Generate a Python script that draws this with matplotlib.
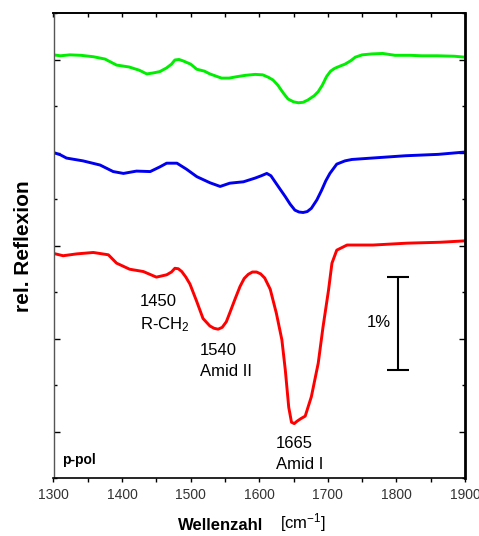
import matplotlib
matplotlib.use("Agg")
import matplotlib.pyplot as plt
from matplotlib.ticker import MultipleLocator

plt.rcParams['font.family'] = ['Liberation Sans', 'DejaVu Sans']
plt.rcParams['mathtext.default'] = 'regular'

# ---- data (wavenumber in cm^-1, relative reflexion in arbitrary offset units; 2 units = 1%) ----
green_wn = [1300, 1310, 1324, 1340, 1358, 1375, 1392, 1410, 1425, 1436, 1445, 1455, 1465, 1472, 1477,
            1483, 1489, 1500, 1509, 1520, 1528, 1545, 1556, 1567, 1580, 1594, 1605, 1613, 1620, 1627,
            1635, 1642, 1650, 1657, 1664, 1671, 1680, 1686, 1692, 1698, 1704, 1710, 1718, 1725, 1733,
            1740, 1750, 1764, 1780, 1798, 1820, 1837, 1860, 1885, 1900]
green_val = [8.10, 8.08, 8.10, 8.09, 8.06, 8.01, 7.88, 7.84, 7.77, 7.69, 7.71, 7.74, 7.82, 7.90, 7.99,
             8.00, 7.97, 7.90, 7.79, 7.75, 7.69, 7.60, 7.60, 7.63, 7.66, 7.68, 7.67, 7.62, 7.56, 7.45,
             7.28, 7.15, 7.09, 7.07, 7.08, 7.13, 7.22, 7.31, 7.45, 7.63, 7.75, 7.81, 7.86, 7.90, 7.97,
             8.05, 8.10, 8.12, 8.13, 8.09, 8.09, 8.08, 8.08, 8.07, 8.05]

blue_wn = [1300, 1310, 1319, 1343, 1368, 1387, 1402, 1421, 1441, 1455, 1465, 1480, 1494, 1509, 1528,
           1543, 1557, 1577, 1594, 1603, 1611, 1617, 1623, 1630, 1638, 1645, 1652, 1658, 1664, 1670,
           1676, 1684, 1691, 1697, 1703, 1713, 1725, 1735, 1764, 1813, 1861, 1900]
blue_val = [6.00, 5.95, 5.88, 5.82, 5.73, 5.59, 5.55, 5.60, 5.59, 5.69, 5.77, 5.77, 5.64, 5.48, 5.35,
            5.27, 5.34, 5.37, 5.45, 5.50, 5.55, 5.50, 5.37, 5.22, 5.05, 4.89, 4.76, 4.72, 4.71, 4.73,
            4.80, 4.98, 5.19, 5.39, 5.55, 5.75, 5.82, 5.85, 5.88, 5.93, 5.96, 6.01]

red_wn = [1300, 1314, 1334, 1358, 1380, 1392, 1411, 1431, 1450, 1465, 1472, 1477, 1482, 1487, 1493,
          1499, 1509, 1518, 1528, 1534, 1540, 1546, 1552, 1557, 1565, 1572, 1578, 1584, 1590, 1596,
          1602, 1608, 1616, 1625, 1633, 1638, 1643, 1647, 1651, 1655, 1661, 1667, 1676, 1686, 1693,
          1701, 1706, 1713, 1728, 1766, 1815, 1864, 1900]
red_val = [3.83, 3.78, 3.82, 3.85, 3.80, 3.62, 3.49, 3.44, 3.32, 3.37, 3.43, 3.51, 3.50, 3.44, 3.32,
           3.17, 2.79, 2.43, 2.27, 2.22, 2.20, 2.24, 2.36, 2.55, 2.86, 3.12, 3.29, 3.38, 3.43, 3.43,
           3.39, 3.30, 3.06, 2.54, 1.97, 1.32, 0.52, 0.20, 0.17, 0.22, 0.28, 0.33, 0.75, 1.47, 2.25,
           3.04, 3.62, 3.90, 4.01, 4.01, 4.05, 4.07, 4.10]

x_ticks = [1300, 1400, 1500, 1600, 1700, 1800, 1900]

peak_labels = [("1450", "R-CH$_2$"), ("1540", "Amid II"), ("1665", "Amid I")]
scale_label = "1%"

# ---- figure ----
fig = plt.figure(figsize=(4.79, 5.36), dpi=100)
ax = fig.add_axes([53.5 / 479, 58 / 536, (465 - 53.5) / 479, (478 - 13) / 536])

for wn, val, col in [(green_wn, green_val, '#00ee00'),
                     (blue_wn, blue_val, '#0000ee'),
                     (red_wn, red_val, '#ff0000')]:
    ax.plot(wn, val, color=col, lw=2.1, solid_joinstyle='round', solid_capstyle='round')

ax.set_xlim(1300, 1900)
ax.set_ylim(-1, 9)
ax.set_xticks(x_ticks)
ax.xaxis.set_minor_locator(MultipleLocator(50))
ax.yaxis.set_major_locator(MultipleLocator(2))
ax.yaxis.set_minor_locator(MultipleLocator(1))
ax.set_yticklabels([])
ax.tick_params(axis='x', which='major', direction='out', length=3, width=1, labelsize=10,
               labelcolor='#333333', pad=4)
ax.tick_params(axis='x', which='minor', direction='out', length=3, width=1)
ax.tick_params(axis='y', which='major', direction='in', length=4.3, width=1, left=True, right=True)
ax.tick_params(axis='y', which='minor', direction='in', length=2.3, width=1, left=True, right=True)

top = ax.secondary_xaxis('top')
top.set_xticks(x_ticks)
top.xaxis.set_minor_locator(MultipleLocator(50))
top.set_xticklabels([])
top.tick_params(axis='x', which='both', direction='in', length=3, width=1)
top.spines['top'].set_linewidth(1.2)

ax.spines['left'].set_linewidth(1.0)
ax.spines['left'].set_color('#555555')
ax.spines['right'].set_linewidth(2.0)
ax.spines['bottom'].set_linewidth(1.2)
ax.spines['top'].set_linewidth(1.2)

# peak annotations
fs = 12
ax.text(1426, 2.79, peak_labels[0][0], fontsize=fs, va='center', ha='left')
ax.text(1426, 2.30, peak_labels[0][1], fontsize=fs, va='center', ha='left')
ax.text(1513, 1.75, peak_labels[1][0], fontsize=fs, va='center', ha='left')
ax.text(1513, 1.28, peak_labels[1][1], fontsize=fs, va='center', ha='left')
ax.text(1624, -0.25, peak_labels[2][0], fontsize=fs, va='center', ha='left')
ax.text(1624, -0.70, peak_labels[2][1], fontsize=fs, va='center', ha='left')

# scale bar
ax.errorbar([1802], [2.32], yerr=[[1.0], [1.0]], color='black', lw=1.5, capsize=8, capthick=1.5)
ax.text(1757, 2.35, scale_label, fontsize=fs, va='center', ha='left')

ax.text(1313, -0.61, "p-pol", fontsize=10, fontweight='bold', va='center', ha='left')

fig.text(24 / 479, (536 - 246) / 536, "rel. Reflexion", rotation=90, fontsize=15,
         fontweight='bold', va='center', ha='center')
fig.text(178 / 479, (536 - 525) / 536, "Wellenzahl", fontsize=12, fontweight='bold',
         va='center', ha='left')
fig.text(280 / 479, (536 - 523) / 536, "[cm$^{-1}$]", fontsize=12, va='center', ha='left')

fig.savefig("out.png", dpi=100)
